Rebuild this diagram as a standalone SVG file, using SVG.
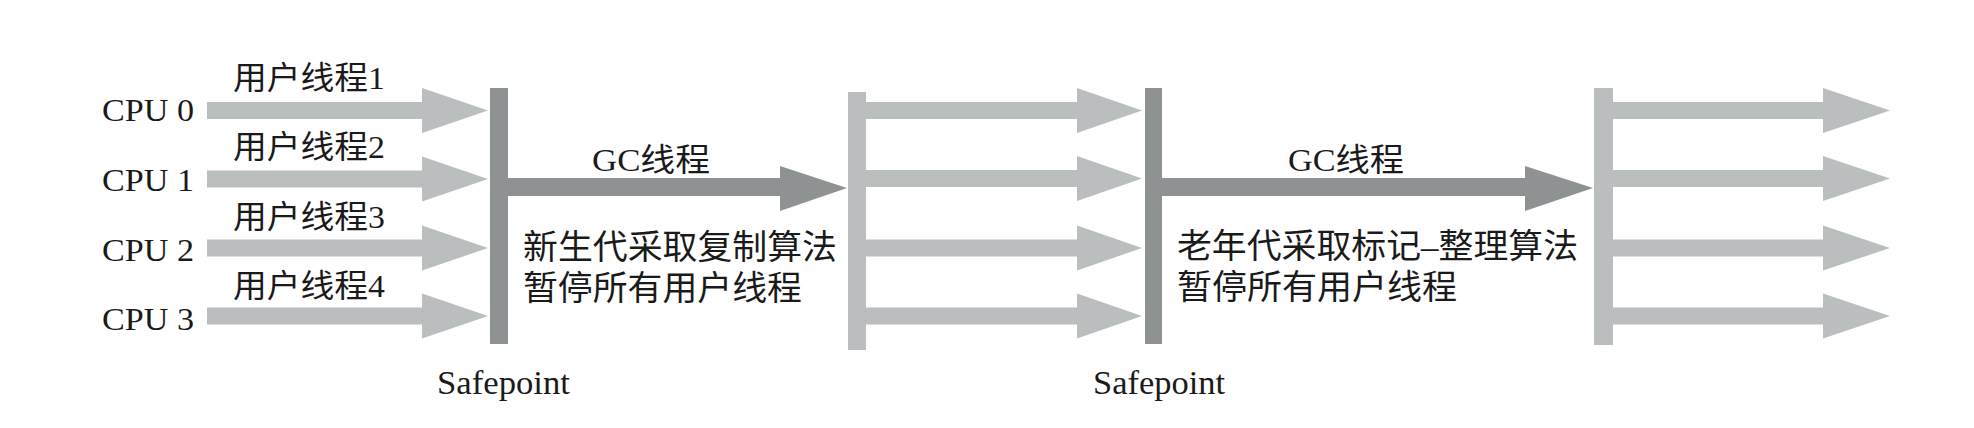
<svg xmlns="http://www.w3.org/2000/svg" width="1974" height="428" viewBox="0 0 1974 428">
<style>
.bg{fill:#ffffff}
.dark{fill:#8e9292}
.light{fill:#babebe}
.t{font-family:"Liberation Serif","Noto Sans CJK SC",serif;fill:#1a1a1a}
.cpu{font-size:31px}
.ul{font-size:32px}
.gc{font-size:32px}
.desc{font-size:34px}
.sp{font-size:34px}
</style>
<rect class="bg" x="0" y="0" width="1974" height="428"/>
<g id="connectors">
  <g id="user-threads-before">
    <polygon class="light" points="207,102 422,102 422,88 488,110.5 422,133 422,119 207,119"/>
    <polygon class="light" points="207,170.5 422,170.5 422,156.5 488,179 422,201.5 422,187.5 207,187.5"/>
    <polygon class="light" points="207,239.5 422,239.5 422,225.5 488,248 422,270.5 422,256.5 207,256.5"/>
    <polygon class="light" points="207,307.5 422,307.5 422,293.5 488,316 422,338.5 422,324.5 207,324.5"/>
  </g>
  <polygon id="gc-arrow-1" class="dark" points="508,178 780,178 780,166 847,188 780,211 780,196 508,196"/>
  <g id="user-threads-middle">
    <polygon class="light" points="866,102 1077,102 1077,88 1142,110.5 1077,133 1077,119 866,119"/>
    <polygon class="light" points="866,170 1077,170 1077,156 1142,178.5 1077,201 1077,187 866,187"/>
    <polygon class="light" points="866,239.5 1077,239.5 1077,225.5 1142,248 1077,270.5 1077,256.5 866,256.5"/>
    <polygon class="light" points="866,307.5 1077,307.5 1077,293.5 1142,316 1077,338.5 1077,324.5 866,324.5"/>
  </g>
  <polygon id="gc-arrow-2" class="dark" points="1162,178 1525,178 1525,166 1593,188 1525,211 1525,196 1162,196"/>
  <g id="user-threads-after">
    <polygon class="light" points="1613,102 1823,102 1823,88 1890,110.5 1823,133 1823,119 1613,119"/>
    <polygon class="light" points="1613,170 1823,170 1823,156 1890,178.5 1823,201 1823,187 1613,187"/>
    <polygon class="light" points="1613,239.5 1823,239.5 1823,225.5 1890,248 1823,270.5 1823,256.5 1613,256.5"/>
    <polygon class="light" points="1613,307.5 1823,307.5 1823,293.5 1890,316 1823,338.5 1823,324.5 1613,324.5"/>
  </g>
</g>
<g id="safepoint-1">
  <rect class="dark" x="490" y="88" width="18" height="256"/>
  <text class="t sp" x="437" y="394" textLength="133" lengthAdjust="spacingAndGlyphs">Safepoint</text>
</g>
<g id="resume-bar-1">
  <rect class="light" x="848" y="92" width="18" height="258"/>
</g>
<g id="safepoint-2">
  <rect class="dark" x="1145" y="88" width="17" height="256"/>
  <text class="t sp" x="1093" y="394" textLength="132" lengthAdjust="spacingAndGlyphs">Safepoint</text>
</g>
<g id="resume-bar-2">
  <rect class="light" x="1594" y="88" width="19" height="257"/>
</g>
<g id="cpu-labels">
  <text class="t cpu" x="102" y="121" textLength="92" lengthAdjust="spacingAndGlyphs">CPU 0</text>
  <text class="t cpu" x="102" y="191" textLength="92" lengthAdjust="spacingAndGlyphs">CPU 1</text>
  <text class="t cpu" x="102" y="261" textLength="92" lengthAdjust="spacingAndGlyphs">CPU 2</text>
  <text class="t cpu" x="102" y="330" textLength="92" lengthAdjust="spacingAndGlyphs">CPU 3</text>
</g>
<g id="thread-labels">
  <text class="t ul" x="233" y="89" textLength="152" lengthAdjust="spacingAndGlyphs">用户线程1</text>
  <text class="t ul" x="233" y="158" textLength="152" lengthAdjust="spacingAndGlyphs">用户线程2</text>
  <text class="t ul" x="233" y="228" textLength="152" lengthAdjust="spacingAndGlyphs">用户线程3</text>
  <text class="t ul" x="233" y="297" textLength="152" lengthAdjust="spacingAndGlyphs">用户线程4</text>
</g>
<g id="gc-phase-1">
  <text class="t gc" x="592" y="171" textLength="118" lengthAdjust="spacingAndGlyphs">GC线程</text>
  <text class="t desc" x="523" y="259" textLength="314" lengthAdjust="spacingAndGlyphs">新生代采取复制算法</text>
  <text class="t desc" x="523" y="300" textLength="279" lengthAdjust="spacingAndGlyphs">暂停所有用户线程</text>
</g>
<g id="gc-phase-2">
  <text class="t gc" x="1288" y="171" textLength="116" lengthAdjust="spacingAndGlyphs">GC线程</text>
  <text class="t desc" x="1177" y="258" textLength="401" lengthAdjust="spacingAndGlyphs">老年代采取标记–整理算法</text>
  <text class="t desc" x="1177" y="299" textLength="280" lengthAdjust="spacingAndGlyphs">暂停所有用户线程</text>
</g>
</svg>
